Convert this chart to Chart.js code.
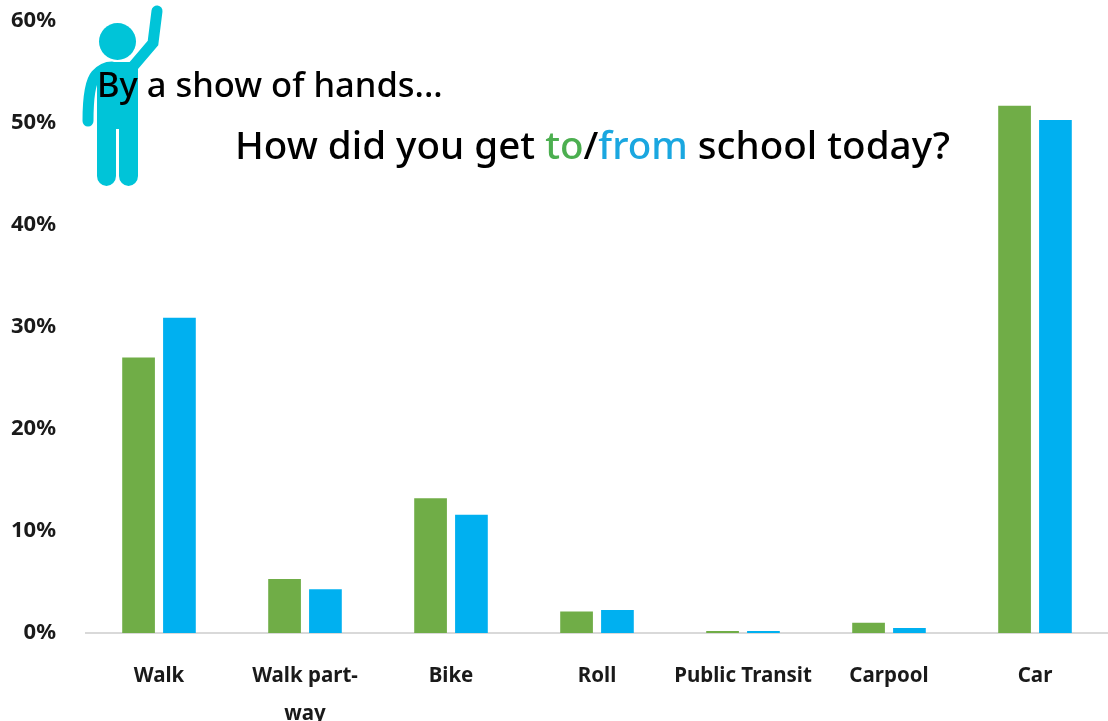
<!DOCTYPE html>
<html>
<head>
<meta charset="utf-8">
<script src="https://cdn.jsdelivr.net/npm/chart.js@4"></script>
<style>
  html, body { margin: 0; padding: 0; background: #fff; overflow: hidden; }
  #wrap { position: relative; width: 1108px; height: 721px; }
  #figure { position: absolute; left: 0; top: 0; }
  .txt { position: absolute; white-space: nowrap; color: #000; font-family: "Noto Sans", sans-serif; font-weight: 500; }
</style>
</head>
<body>
<div id="wrap">
  <canvas id="myChart" width="1108" height="721"></canvas>
  <svg id="figure" width="1108" height="200" fill="#00c4d8" stroke="none">
    <circle cx="117.5" cy="41.5" r="18.5"/>
    <path d="M157 11 L153 43 L130 70" fill="none" stroke="#00c4d8" stroke-width="11" stroke-linecap="round" stroke-linejoin="miter"/>
    <path d="M88 121 Q88 84 96 75 Q103 67 112 67" fill="none" stroke="#00c4d8" stroke-width="11" stroke-linecap="round"/>
    <path d="M108 62 L133 62 L138 68 L138 176 A9.5 10 0 0 1 119 176 L119 129 L116 129 L116 176 A9.5 10 0 0 1 97 176 L97 72 Z"/>
  </svg>
  <div class="txt" style="left:97px; top:60px; font-size:34.5px;">By a show of hands...</div>
  <div class="txt" style="left:235px; top:118px; font-size:38.6px;">How did you get <span style="color:#4caf50">to</span>/<span style="color:#1aa7e0">from</span> school today?</div>
</div>
<script>
const categories = ['Walk', ['Walk part-', 'way'], 'Bike', 'Roll', 'Public Transit', 'Carpool', 'Car'];
const toSchool = [27.0, 5.3, 13.2, 2.1, 0.2, 1.0, 51.7];
const fromSchool = [30.9, 4.3, 11.6, 2.25, 0.2, 0.5, 50.3];

const ctx = document.getElementById('myChart').getContext('2d');

const myChart = new Chart(ctx, {
    type: 'bar',
    data: {
        labels: categories,
        datasets: [
            { label: 'To', data: toSchool, backgroundColor: '#70ad47' },
            { label: 'From', data: fromSchool, backgroundColor: '#00b0f0' }
        ]
    },
    options: {
        responsive: false,
        animation: false,
        categoryPercentage: 0.56,
        barPercentage: 0.8,
        layout: { padding: { top: 21 } },
        plugins: { legend: { display: false }, title: { display: false }, tooltip: { enabled: false } },
        scales: {
            x: {
                afterFit: s => { s.height = 88; },
                grid: { display: false, drawTicks: false },
                border: { color: '#d9d9d9', width: 2 },
                ticks: {
                    color: '#1a1a1a',
                    padding: 24,
                    maxRotation: 0,
                    autoSkip: false,
                    font: { family: '"Noto Sans"', size: 20.5, weight: 'bold', lineHeight: 1.85 }
                }
            },
            y: {
                min: 0,
                max: 60,
                // tick padding would otherwise also push the plot top down
                afterFit: s => { s.width = 86; s.paddingTop = 0; s.paddingBottom = 0; },
                grid: { display: false, drawTicks: false },
                border: { display: false },
                ticks: {
                    stepSize: 10,
                    color: '#1a1a1a',
                    padding: 30,
                    callback: v => v + '%',
                    font: { family: '"Noto Sans"', size: 22, weight: 'bold' }
                }
            }
        }
    }
});
</script>
</body>
</html>
